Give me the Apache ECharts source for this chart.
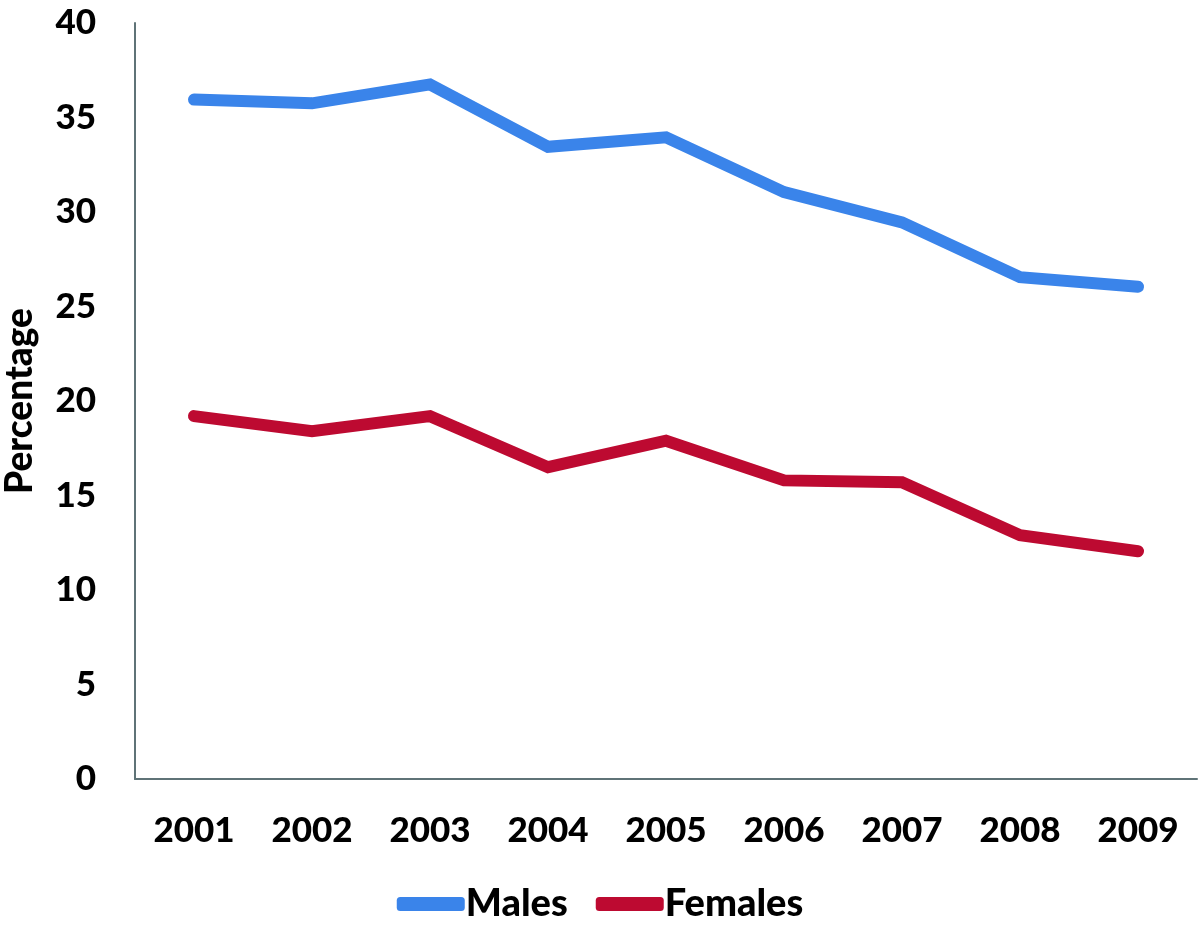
<!DOCTYPE html>
<html>
<head>
<meta charset="utf-8">
<script src="https://cdn.jsdelivr.net/npm/echarts@6/dist/echarts.min.js"></script>
<style>html,body{margin:0;padding:0;background:#fff}#c{width:1200px;height:930px}</style>
</head>
<body>
<div id="c"></div>
<script>
const years = ['2001','2002','2003','2004','2005','2006','2007','2008','2009'];
const males = [35.95, 35.75, 36.75, 33.45, 33.95, 31.05, 29.45, 26.55, 26.05];
const females = [19.2, 18.4, 19.2, 16.5, 17.9, 15.8, 15.7, 12.9, 12.05];
const yTicks = [0, 5, 10, 15, 20, 25, 30, 35, 40];

const FONT = 'Lato';
const chart = echarts.init(document.getElementById('c'), null, {renderer: 'canvas'});
chart.setOption({
  animation: false,
  backgroundColor: '#ffffff',
  grid: {left: 135, right: 3, top: 23, bottom: 151, containLabel: false, outerBoundsMode: 'none'},
  legend: {
    bottom: 2, left: 'center',
    itemWidth: 68, itemHeight: 14, itemGap: 28,
    icon: 'roundRect',
    textStyle: {fontFamily: FONT, fontWeight: 900, fontSize: 38, color: '#000', padding: [0, 0, 0, -4]},
    data: ['Males', 'Females']
  },
  xAxis: {
    type: 'category', data: years, boundaryGap: true,
    axisLine: {show: true, lineStyle: {color: '#5f7377', width: 2}},
    axisTick: {show: false},
    axisLabel: {fontFamily: FONT, fontWeight: 900, fontSize: 35, color: '#000', margin: 34}
  },
  yAxis: {
    type: 'value', min: yTicks[0], max: yTicks[yTicks.length - 1], interval: 5,
    name: 'Percentage', nameLocation: 'middle', nameRotate: 90, nameGap: 96,
    nameTextStyle: {fontFamily: FONT, fontWeight: 900, fontSize: 37, color: '#000'},
    axisLine: {show: true, lineStyle: {color: '#5f7377', width: 2}},
    axisTick: {show: false},
    splitLine: {show: false},
    axisLabel: {fontFamily: FONT, fontWeight: 900, fontSize: 35, color: '#000', margin: 39}
  },
  series: [
    {name: 'Males', type: 'line', data: males, symbol: 'none', smooth: false,
     itemStyle: {color: '#3a84ea'},
     lineStyle: {color: '#3a84ea', width: 12, cap: 'round', join: 'miter'}},
    {name: 'Females', type: 'line', data: females, symbol: 'none', smooth: false,
     itemStyle: {color: '#bd0a31'},
     lineStyle: {color: '#bd0a31', width: 12, cap: 'round', join: 'miter'}}
  ]
});
</script>
</body>
</html>
